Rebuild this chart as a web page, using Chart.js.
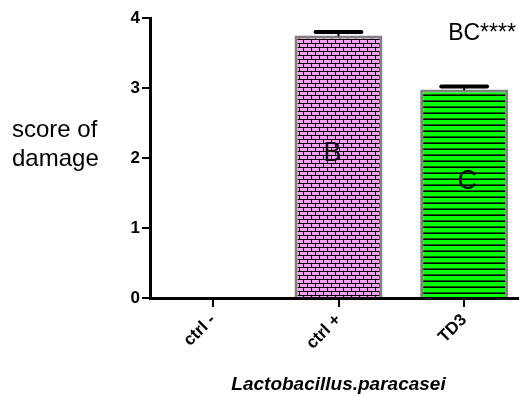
<!DOCTYPE html>
<html>
<head>
<meta charset="utf-8">
<script src="https://cdn.jsdelivr.net/npm/chart.js@4.4.0/dist/chart.umd.min.js"></script>
<style>
  html, body { margin: 0; padding: 0; background: #fff; overflow: hidden; }
  #wrap { width: 527px; height: 396px; }
</style>
</head>
<body>
<div id="wrap"><canvas id="damageChart"></canvas></div>
<script>
const categories = ["ctrl -", "ctrl +", "TD3"];
const damageScores = [0, 3.75, 2.98];
const damageErrors = [0, 0.05, 0.04];
const yTicks = [0, 1, 2, 3, 4];
const barLetters = ["", "B", "C"];
const letterLevels = [0, 2.06, 1.67];
const significance = "BC****";
const significanceLevel = 3.78;

const FONT = "'Liberation Sans', Arial, sans-serif";

// brick fill for ctrl +
function brickPattern() {
  const c = document.createElement("canvas");
  c.width = 8; c.height = 8;
  const g = c.getContext("2d");
  g.fillStyle = "#f4a0f4";
  g.fillRect(0, 0, 8, 8);
  g.fillStyle = "#000";
  g.fillRect(0, 3, 8, 1);
  g.fillRect(0, 7, 8, 1);
  g.fillRect(7, 0, 1, 3);
  g.fillRect(3, 4, 1, 3);
  return g.createPattern(c, "repeat");
}

// striped fill for TD3
function stripePattern() {
  const c = document.createElement("canvas");
  c.width = 6; c.height = 6;
  const g = c.getContext("2d");
  g.fillStyle = "#00ff00";
  g.fillRect(0, 0, 6, 6);
  g.fillStyle = "#006400";
  g.fillRect(0, 4, 6, 1);
  g.fillStyle = "#000";
  g.fillRect(0, 5, 6, 1);
  return g.createPattern(c, "repeat");
}

const errorBars = {
  id: "errorBars",
  afterDatasetsDraw(chart) {
    const ctx = chart.ctx;
    const yScale = chart.scales.y;
    const meta = chart.getDatasetMeta(0);
    ctx.save();
    ctx.strokeStyle = "#000";
    ctx.lineCap = "round";
    meta.data.forEach((bar, i) => {
      if (!damageErrors[i]) return;
      const top = yScale.getPixelForValue(damageScores[i] + damageErrors[i]);
      const half = bar.width * 0.26;
      ctx.lineWidth = 2;
      ctx.beginPath();
      ctx.moveTo(bar.x, bar.y);
      ctx.lineTo(bar.x, top);
      ctx.stroke();
      ctx.lineWidth = 4;
      ctx.beginPath();
      ctx.moveTo(bar.x - half, top);
      ctx.lineTo(bar.x + half, top);
      ctx.stroke();
    });
    ctx.restore();
  }
};

const annotations = {
  id: "annotations",
  afterDraw(chart) {
    const ctx = chart.ctx;
    const x = chart.scales.x, y = chart.scales.y;
    const area = chart.chartArea;
    ctx.save();
    ctx.fillStyle = "#000";
    ctx.textBaseline = "middle";

    ctx.textAlign = "center";
    ctx.font = "27px " + FONT;
    const shift = [0, -6, 3];
    barLetters.forEach((t, i) => {
      if (!t) return;
      ctx.fillText(t, x.getPixelForValue(i) + shift[i], y.getPixelForValue(letterLevels[i]));
    });

    ctx.textAlign = "left";
    ctx.font = "23px " + FONT;
    ctx.fillText(significance, x.getPixelForValue(2) - 16, y.getPixelForValue(significanceLevel));

    // y axis label, written horizontally left of the axis
    ctx.font = "24px " + FONT;
    ctx.textBaseline = "alphabetic";
    ctx.fillText("score of", 12, area.top + 119);
    ctx.fillText("damage", 12, area.top + 148);
    ctx.restore();
  }
};

new Chart(document.getElementById("damageChart"), {
  type: "bar",
  data: {
    labels: categories,
    datasets: [{
      data: damageScores,
      backgroundColor: ["rgba(0,0,0,0)", brickPattern(), stripePattern()],
      borderColor: "#808080",
      borderWidth: [0, 3, 3],
      categoryPercentage: 1,
      barPercentage: 0.7
    }]
  },
  options: {
    responsive: true,
    maintainAspectRatio: false,
    animation: false,
    devicePixelRatio: 1,
    layout: { padding: { top: 18, left: 0, right: 0, bottom: 0 } },
    plugins: {
      legend: { display: false },
      tooltip: { enabled: false }
    },
    scales: {
      x: {
        offset: true,
        grid: { offset: false, drawOnChartArea: false, drawTicks: true, tickLength: 9, color: "#000", lineWidth: 2 },
        border: { display: true, color: "#000", width: 3 },
        ticks: {
          color: "#000",
          font: { family: FONT, size: 17, weight: "bold" },
          maxRotation: 45,
          minRotation: 45,
          autoSkip: false,
          padding: 3
        },
        title: {
          display: true,
          text: "Lactobacillus.paracasei",
          color: "#000",
          font: { family: FONT, size: 19, weight: "bold", style: "italic" },
          padding: { top: 0, bottom: 0 }
        },
        afterFit(scale) { scale.height = 98; }
      },
      y: {
        min: 0,
        max: 4,
        afterBuildTicks(scale) { scale.ticks = yTicks.map(v => ({ value: v })); },
        grid: { drawOnChartArea: false, drawTicks: true, tickLength: 8, color: "#000", lineWidth: 2 },
        border: { display: true, color: "#000", width: 3 },
        ticks: {
          color: "#000",
          font: { family: FONT, size: 17, weight: "bold" },
          padding: 2
        },
        afterFit(scale) { scale.width = 150; }
      }
    }
  },
  plugins: [errorBars, annotations]
});
</script>
</body>
</html>
